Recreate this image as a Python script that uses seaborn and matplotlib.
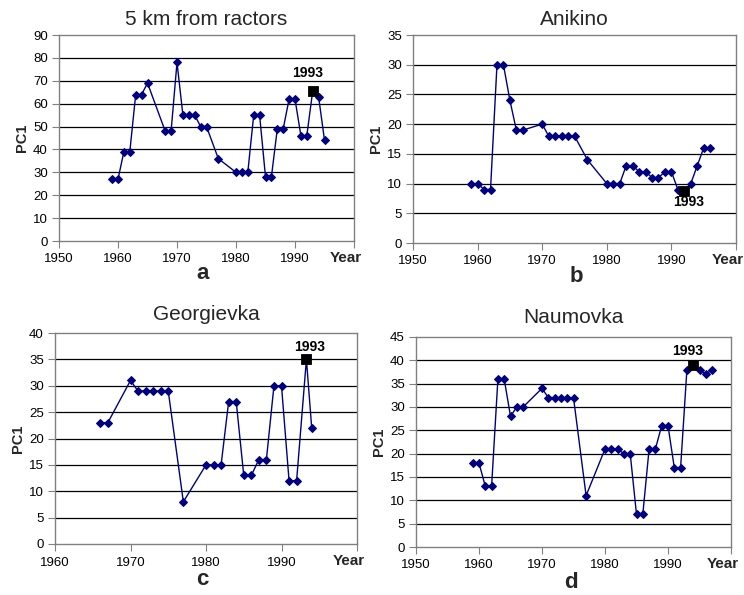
import matplotlib
matplotlib.use("Agg")
import matplotlib.pyplot as plt
import matplotlib.transforms as mtransforms
import seaborn as sns
import pandas as pd

sns.set_theme(style="white")
plt.rcParams['font.family'] = ['Liberation Sans', 'DejaVu Sans']

# ---------------- data ----------------
years_a = [1959, 1960, 1961, 1962, 1963, 1964, 1965, 1968, 1969, 1970, 1971, 1972, 1973, 1974, 1975,
           1977, 1980, 1981, 1982, 1983, 1984, 1985, 1986, 1987, 1988, 1989, 1990, 1991, 1992, 1993,
           1994, 1995]
pc1_a = [27, 27, 39, 39, 64, 64, 69, 48, 48, 78, 55, 55, 55, 50, 50,
         36, 30, 30, 30, 55, 55, 28, 28, 49, 49, 62, 62, 46, 46, 65.5,
         63, 44]

years_b = [1959, 1960, 1961, 1962, 1963, 1964, 1965, 1966, 1967, 1970, 1971, 1972, 1973, 1974, 1975,
           1977, 1980, 1981, 1982, 1983, 1984, 1985, 1986, 1987, 1988, 1989, 1990, 1991, 1992, 1993,
           1994, 1995, 1996]
pc1_b = [10, 10, 9, 9, 30, 30, 24, 19, 19, 20, 18, 18, 18, 18, 18,
         14, 10, 10, 10, 13, 13, 12, 12, 11, 11, 12, 12, 9, 8.7, 10,
         13, 16, 16]

years_c = [1966, 1967, 1970, 1971, 1972, 1973, 1974, 1975, 1977, 1980, 1981, 1982, 1983, 1984,
           1985, 1986, 1987, 1988, 1989, 1990, 1991, 1992, 1993.3, 1994]
pc1_c = [23, 23, 31, 29, 29, 29, 29, 29, 8, 15, 15, 15, 27, 27,
         13, 13, 16, 16, 30, 30, 12, 12, 35, 22]

years_d = [1959, 1960, 1961, 1962, 1963, 1964, 1965, 1966, 1967, 1970, 1971, 1972, 1973, 1974, 1975,
           1977, 1980, 1981, 1982, 1983, 1984, 1985, 1986, 1987, 1988, 1989, 1990, 1991, 1992, 1993,
           1994, 1995, 1996, 1997]
pc1_d = [18, 18, 13, 13, 36, 36, 28, 30, 30, 34, 32, 32, 32, 32, 32,
         11, 21, 21, 21, 20, 20, 7, 7, 21, 21, 26, 26, 17, 17, 38,
         39, 38, 37, 38]

# highlighted "1993" points
hl_x = {'a': 1993, 'b': 1992, 'c': 1993.3, 'd': 1994}
hl_y = {'a': 65.5, 'b': 8.7, 'c': 35, 'd': 39}
hl_label = "1993"

titles = {'a': "5 km from ractors", 'b': "Anikino", 'c': "Georgievka", 'd': "Naumovka"}
xlims = {'a': (1950, 2000), 'b': (1950, 2000), 'c': (1960, 2000), 'd': (1950, 2000)}
ylims = {'a': (0, 90, 10), 'b': (0, 35, 5), 'c': (0, 40, 5), 'd': (0, 45, 5)}
series = {'a': (years_a, pc1_a), 'b': (years_b, pc1_b), 'c': (years_c, pc1_c), 'd': (years_d, pc1_d)}

# ---------------- layout (pixel boxes: left, top, right, bottom) ----------------
W, H = 744, 595
boxes = {'a': (59, 35, 354, 241), 'b': (413, 35, 736, 243),
         'c': (55, 333, 357, 544), 'd': (416, 337, 731, 547)}
title_pad = {'a': 7, 'b': 7, 'c': 9, 'd': 10}
label_offset = {'a': (-4, 8), 'b': (3, -3), 'c': (2, 4), 'd': (-4, 5)}
label_va = {'a': 'bottom', 'b': 'top', 'c': 'bottom', 'd': 'bottom'}
letter_drop = {'a': 38, 'b': 39, 'c': 41, 'd': 41}
letter_dx = {'a': -4, 'b': 2, 'c': -4, 'd': -3}

fig = plt.figure(figsize=(W / 100, H / 100), dpi=100)
fig.patch.set_facecolor('white')

navy = '#000080'

for key in ['a', 'b', 'c', 'd']:
    l, t, r, b = boxes[key]
    ax = fig.add_axes([l / W, 1 - b / H, (r - l) / W, (b - t) / H])
    x, y = series[key]
    df = pd.DataFrame({'Year': x, 'PC1': y})
    sns.lineplot(data=df, x='Year', y='PC1', ax=ax, color=navy, linewidth=1.0,
                 marker='D', markersize=4.5, markeredgecolor=navy, markerfacecolor=navy,
                 sort=False, zorder=3)
    hdf = pd.DataFrame({'Year': [hl_x[key]], 'PC1': [hl_y[key]]})
    sns.scatterplot(data=hdf, x='Year', y='PC1', ax=ax, marker='s', s=55, color='black',
                    edgecolor='black', zorder=4)
    ax.annotate(hl_label, (hl_x[key], hl_y[key]), xytext=label_offset[key],
                textcoords='offset points', ha='center', va=label_va[key],
                fontsize=10, fontweight='bold', color='black', zorder=5)

    x0, x1 = xlims[key]
    y0, y1, ys = ylims[key]
    ax.set_xlim(x0, x1)
    ax.set_ylim(y0, y1)
    ax.set_xticks(list(range(x0, x1, 10)) + [x1])
    ax.set_xticklabels([str(v) for v in range(x0, x1, 10)] + [''])
    ax.set_yticks(list(range(y0, y1 + 1, ys)))
    for gy in range(y0 + ys, y1, ys):
        ax.axhline(gy, color='black', linewidth=0.9, zorder=1)
    for sp in ax.spines.values():
        sp.set_color('#808080')
        sp.set_linewidth(1.0)
    ax.tick_params(axis='both', which='major', direction='out', length=5, width=0.8,
                   color='#808080', labelsize=9.5, labelcolor='black', bottom=True, left=True)
    ax.tick_params(axis='x', pad=4)
    ax.tick_params(axis='y', pad=3)
    ax.set_xlabel('')
    ax.set_ylabel('PC1', fontsize=10.5, fontweight='bold', labelpad=3)
    ax.set_title(titles[key], fontsize=15, pad=title_pad[key])
    trans = mtransforms.blended_transform_factory(ax.transData, ax.transAxes)
    ax.annotate('Year', (x1, 0), xycoords=trans, xytext=(-8, -21),
                textcoords='offset pixels', ha='center', va='baseline',
                fontsize=11, fontweight='bold', annotation_clip=False)
    ax.annotate(key, (0.5, 0), xycoords='axes fraction', xytext=(letter_dx[key], -letter_drop[key]),
                textcoords='offset pixels', ha='center', va='baseline',
                fontsize=16, fontweight='bold', annotation_clip=False)

fig.savefig('out.png', dpi=100, facecolor='white')
